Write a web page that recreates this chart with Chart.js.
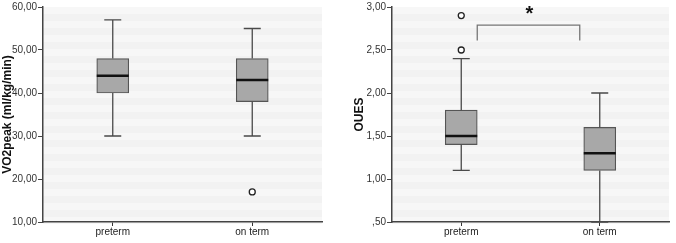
<!DOCTYPE html>
<html>
<head>
<meta charset="utf-8">
<script src="https://cdn.jsdelivr.net/npm/chart.js@4.4.0/dist/chart.umd.min.js"></script>
<style>
  html, body { margin: 0; padding: 0; background: #fff; }
  #wrap { position: relative; width: 676px; height: 243px; }
  .box { position: absolute; top: 0; height: 243px; }
  #b1 { left: 0; width: 340px; }
  #b2 { left: 340px; width: 336px; }
</style>
</head>
<body>
<div id="wrap">
  <div class="box" id="b1"><canvas id="c1"></canvas></div>
  <div class="box" id="b2"><canvas id="c2"></canvas></div>
</div>
<script>
// ---- data ----
const categories = ['preterm', 'on term'];

const vo2Min = [30, 30];
const vo2Q1 = [40, 38];
const vo2Median = [44, 43];
const vo2Q3 = [48, 48];
const vo2Max = [57, 55];
const vo2Outliers = [[], [17]];
const vo2TickMin = 10, vo2TickMax = 60, vo2TickStep = 10;

const ouesMin = [1.1, 0.5];
const ouesQ1 = [1.4, 1.1];
const ouesMedian = [1.5, 1.3];
const ouesQ3 = [1.8, 1.6];
const ouesMax = [2.4, 2.0];
const ouesOutliers = [[2.5, 2.9], []];
const ouesTickMin = 0.5, ouesTickMax = 3.0, ouesTickStep = 0.5;

const ouesBracket = [2.79, 2.61]; // top, leg bottom
const ouesSignif = '*';

// ---- helpers ----
const FONT = '"Liberation Sans", Arial, sans-serif';
function fmt(v) {
  return v.toFixed(2).replace('.', ',').replace(/^0,/, ',');
}

const boxPlugin = {
  id: 'boxDraw',
  beforeDraw(chart) {
    const { ctx, chartArea: a } = chart;
    ctx.save();
    ctx.fillStyle = '#f2f2f2';
    ctx.fillRect(a.left, a.top, a.right - a.left, a.bottom - a.top);
    ctx.fillStyle = '#f7f7f7';
    for (let y = a.top; y < a.bottom; y += 14) {
      ctx.fillRect(a.left, y, a.right - a.left, 7);
    }
    ctx.restore();
  },
  afterDatasetsDraw(chart) {
    const o = chart.options.plugins.boxDraw;
    const { ctx } = chart;
    const ys = chart.scales.y;
    const meta = chart.getDatasetMeta(0);
    ctx.save();
    meta.data.forEach((bar, i) => {
      const x = bar.x;
      const half = bar.width / 2;
      const yMin = ys.getPixelForValue(o.min[i]);
      const yQ1 = ys.getPixelForValue(o.q1[i]);
      const yQ3 = ys.getPixelForValue(o.q3[i]);
      const yMax = ys.getPixelForValue(o.max[i]);
      const yMed = ys.getPixelForValue(o.median[i]);
      ctx.strokeStyle = '#4a4a4a';
      ctx.lineWidth = 1.3;
      ctx.beginPath();
      ctx.moveTo(x, yQ1); ctx.lineTo(x, yMin);
      ctx.moveTo(x, yQ3); ctx.lineTo(x, yMax);
      ctx.moveTo(x - 8.5, yMin); ctx.lineTo(x + 8.5, yMin);
      ctx.moveTo(x - 8.5, yMax); ctx.lineTo(x + 8.5, yMax);
      ctx.stroke();
      ctx.strokeStyle = '#111';
      ctx.lineWidth = 2.5;
      ctx.beginPath();
      ctx.moveTo(x - half, yMed); ctx.lineTo(x + half, yMed);
      ctx.stroke();
    });
    if (o.bracket) {
      const b0 = meta.data[0], b1 = meta.data[1];
      const xl = b0.x + b0.width / 2;
      const xr = b1.x - b1.width / 2 - 4;
      const yt = ys.getPixelForValue(o.bracket[0]);
      const yb = ys.getPixelForValue(o.bracket[1]);
      ctx.strokeStyle = '#777';
      ctx.lineWidth = 1.3;
      ctx.beginPath();
      ctx.moveTo(xl, yb); ctx.lineTo(xl, yt); ctx.lineTo(xr, yt); ctx.lineTo(xr, yb);
      ctx.stroke();
      ctx.fillStyle = '#111';
      ctx.font = 'bold 20px "Liberation Sans", Arial, sans-serif';
      ctx.textAlign = 'center';
      ctx.textBaseline = 'top';
      ctx.fillText(o.signif, (xl + xr) / 2 + 1, 4);
    }
    ctx.restore();
  }
};

function makeChart(id, cfg) {
  const outlierPts = [];
  cfg.outliers.forEach((arr, i) => arr.forEach(v => outlierPts.push({ x: categories[i], y: v })));
  return new Chart(document.getElementById(id), {
    type: 'bar',
    data: {
      labels: categories,
      datasets: [
        {
          data: cfg.q1.map((v, i) => [v, cfg.q3[i]]),
          backgroundColor: '#a8a8a8',
          borderColor: '#555',
          borderWidth: 1.2,
          borderSkipped: false,
          barThickness: 32,
          order: 2
        },
        {
          type: 'line',
          data: outlierPts,
          showLine: false,
          pointRadius: 3,
          pointBorderWidth: 1.3,
          pointBackgroundColor: '#fff',
          pointBorderColor: '#222',
          order: 1
        }
      ]
    },
    options: {
      responsive: true,
      maintainAspectRatio: false,
      animation: false,
      layout: { padding: { top: cfg.padTop, right: cfg.padRight, left: cfg.padLeft, bottom: 0 } },
      plugins: {
        legend: { display: false },
        tooltip: { enabled: false },
        boxDraw: {
          min: cfg.min, q1: cfg.q1, median: cfg.median, q3: cfg.q3, max: cfg.max,
          bracket: cfg.bracket, signif: cfg.signif
        }
      },
      scales: {
        x: {
          offset: true,
          grid: { display: true, drawOnChartArea: false, drawTicks: true, tickLength: 4, color: '#333', offset: false },
          border: { display: true, color: '#444', width: 1.5 },
          ticks: { color: '#222', font: { family: FONT, size: 10 }, padding: 0 },
          afterFit(s) { s.height = 21; }
        },
        y: {
          min: cfg.tickMin, max: cfg.tickMax,
          grid: { display: true, drawOnChartArea: false, drawTicks: true, tickLength: 5, color: '#444' },
          border: { display: true, color: '#444', width: 1.5 },
          ticks: {
            stepSize: cfg.tickStep,
            color: '#333',
            padding: 1,
            font: { family: FONT, size: 10 },
            callback: v => fmt(v)
          },
          title: {
            display: true, text: cfg.title, color: '#111', padding: { top: 0, bottom: 0 },
            font: { family: FONT, size: 12, weight: 'bold' }
          },
          afterFit(s) { s.width = cfg.yWidth; }
        }
      }
    },
    plugins: [boxPlugin]
  });
}

makeChart('c1', {
  min: vo2Min, q1: vo2Q1, median: vo2Median, q3: vo2Q3, max: vo2Max, outliers: vo2Outliers,
  tickMin: vo2TickMin, tickMax: vo2TickMax, tickStep: vo2TickStep,
  title: 'VO2peak (ml/kg/min)', yWidth: 43, padTop: 5, padRight: 18, padLeft: 0
});
makeChart('c2', {
  min: ouesMin, q1: ouesQ1, median: ouesMedian, q3: ouesQ3, max: ouesMax, outliers: ouesOutliers,
  tickMin: ouesTickMin, tickMax: ouesTickMax, tickStep: ouesTickStep,
  title: 'OUES', yWidth: 40, padTop: 5, padRight: 7, padLeft: 12,
  bracket: ouesBracket, signif: ouesSignif
});
</script>
</body>
</html>
